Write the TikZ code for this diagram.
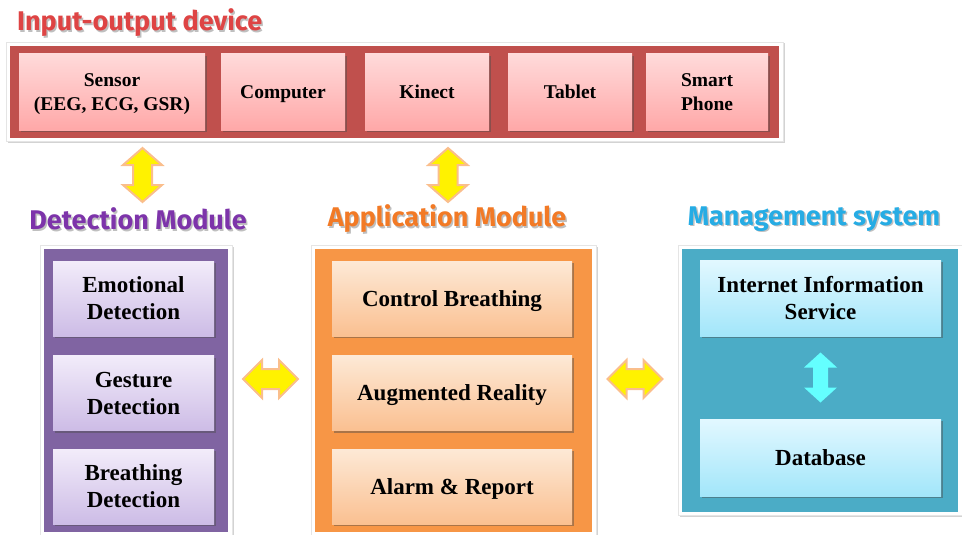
\documentclass[tikz,border=0pt]{standalone}
\usepackage{fontspec}
\setmainfont{Liberation Serif}
\newfontfamily\titlefont{Fira Sans}
\usetikzlibrary{shadows,calc}
\definecolor{ioRed}{RGB}{192,80,77}
\definecolor{detPurple}{RGB}{128,100,162}
\definecolor{appOrange}{RGB}{247,150,70}
\definecolor{mgTeal}{RGB}{75,172,198}
\definecolor{redTop}{RGB}{255,218,218}
\definecolor{redBot}{RGB}{255,168,168}
\definecolor{purTop}{RGB}{242,236,250}
\definecolor{purBot}{RGB}{205,188,230}
\definecolor{oraTop}{RGB}{253,233,214}
\definecolor{oraBot}{RGB}{250,192,145}
\definecolor{tealTop}{RGB}{226,248,255}
\definecolor{tealBot}{RGB}{162,230,250}
\definecolor{arrBorder}{RGB}{250,190,140}
\definecolor{arrCyan}{RGB}{100,255,255}
\definecolor{tRed}{RGB}{222,68,68}
\definecolor{tPurple}{RGB}{125,52,170}
\definecolor{tOrange}{RGB}{242,122,38}
\definecolor{tBlue}{RGB}{38,172,228}
\begin{document}
\begin{tikzpicture}[x=1pt,y=-1pt,
  outerframe/.style={fill=white, draw=black!10, line width=0.6pt,
    drop shadow={shadow xshift=1.5pt, shadow yshift=-1.5pt, opacity=0.35}},
  panel/.style={draw=none, inner sep=0pt},
  boxbase/.style={inner sep=0pt, align=center, draw=none, text depth=0pt,
    drop shadow={shadow xshift=1.5pt, shadow yshift=-2pt, opacity=0.45, fill=black!70}},
  topbox/.style={boxbase, top color=redTop, bottom color=redBot,
    minimum height=76pt, font=\fontsize{19.5}{24}\selectfont\bfseries},
  detbox/.style={boxbase, top color=purTop, bottom color=purBot,
    minimum width=161pt, minimum height=75pt, font=\fontsize{23}{27}\selectfont\bfseries},
  appbox/.style={boxbase, top color=oraTop, bottom color=oraBot,
    minimum width=240pt, minimum height=75pt, font=\fontsize{23}{27}\selectfont\bfseries},
  mgbox/.style={boxbase, top color=tealTop, bottom color=tealBot,
    minimum width=241pt, minimum height=76pt, font=\fontsize{23}{27}\selectfont\bfseries},
  ttl/.style={inner sep=0pt, font=\titlefont\fontsize{27}{31}\selectfont\bfseries},
  ttlshadow/.style={ttl, text=black, opacity=0.25},
  yarrow/.style={fill=yellow, draw=arrBorder, line width=2pt, line join=miter},
  carrow/.style={fill=arrCyan, draw=none}
]
\useasboundingbox (0,0) rectangle (962,535);

% ---------- Input-output device ----------
\node[ttlshadow, anchor=west] (iottlsh) at (18.5,24.5) {Input-output device};
\node[ttl, text=tRed, anchor=west] (iottl) at (17,23) {Input-output device};
\node[outerframe, minimum width=777pt, minimum height=99pt, inner sep=0pt] (ioframe) at (394.5,91.5) {};
\node[panel, fill=ioRed, minimum width=769pt, minimum height=92pt] (iopanel) at (394.5,92) {};
\node[topbox, minimum width=186pt] (sensor) at (112,92) {Sensor\\(EEG, ECG, GSR)};
\node[topbox, minimum width=124pt] (computer) at (283,92) {Computer};
\node[topbox, minimum width=124pt] (kinect) at (427,92) {Kinect};
\node[topbox, minimum width=124pt] (tablet) at (570,92) {Tablet};
\node[topbox, minimum width=122pt] (phone) at (707,92) {Smart\\Phone};

% ---------- Detection Module ----------
\node[ttlshadow] (detttlsh) at (139.5,220.5) {Detection Module};
\node[ttl, text=tPurple] (detttl) at (138,219) {Detection Module};
\node[outerframe, minimum width=192pt, minimum height=290pt, inner sep=0pt] (detframe) at (136,390) {};
\node[panel, fill=detPurple, minimum width=184pt, minimum height=283pt] (detpanel) at (136,390.5) {};
\node[detbox] (emo) at (133.5,298.5) {Emotional\\Detection};
\node[detbox] (ges) at (133.5,393) {Gesture\\Detection};
\node[detbox] (bre) at (133.5,486.5) {Breathing\\Detection};

% ---------- Application Module ----------
\node[ttlshadow] (appttlsh) at (448.5,220.5) {Application Module};
\node[ttl, text=tOrange] (appttl) at (447,219) {Application Module};
\node[outerframe, minimum width=285pt, minimum height=290pt, inner sep=0pt] (appframe) at (453.5,390) {};
\node[panel, fill=appOrange, minimum width=277pt, minimum height=283pt] (apppanel) at (453.5,390.5) {};
\node[appbox] (ctrl) at (452,298.5) {Control Breathing};
\node[appbox] (ar) at (452,393) {Augmented Reality};
\node[appbox] (alarm) at (452,486.5) {Alarm \& Report};

% ---------- Management system ----------
\node[ttlshadow] (mgttlsh) at (815.5,220.5) {Management system};
\node[ttl, text=tBlue] (mgttl) at (814,219) {Management system};
\node[outerframe, minimum width=284pt, minimum height=270pt, inner sep=0pt] (mgframe) at (820,380) {};
\node[panel, fill=mgTeal, minimum width=276pt, minimum height=263pt] (mgpanel) at (820,380.5) {};
\node[mgbox] (iis) at (820.5,298) {Internet Information\\Service};
\node[mgbox, minimum height=77pt] (db) at (820.5,457.5) {Database};

% ---------- connectors (block double arrows) ----------
\coordinate (va1) at (142.5,175);
\coordinate (va2) at (448,175);
\coordinate (ha1) at (270.5,379);
\coordinate (ha2) at (635,379);
\coordinate (ca) at ($(iis.south)!0.5!(db.north)$);

\foreach \c in {va1,va2}{
  \draw[yarrow, shift={(\c)}] (0,-27) -- (19.5,-10) -- (9.5,-10) -- (9.5,10) -- (19.5,10)
     -- (0,27) -- (-19.5,10) -- (-9.5,10) -- (-9.5,-10) -- (-19.5,-10) -- cycle;
}
\foreach \c in {ha1,ha2}{
  \draw[yarrow, shift={(\c)}] (-27.5,0) -- (-8.5,-19) -- (-8.5,-10) -- (8.5,-10) -- (8.5,-19)
     -- (27.5,0) -- (8.5,19) -- (8.5,10) -- (-8.5,10) -- (-8.5,19) -- cycle;
}
\fill[carrow, shift={(ca)}] (0,-25) -- (16.5,-10) -- (7.5,-10) -- (7.5,10) -- (16.5,10)
     -- (0,25) -- (-16.5,10) -- (-7.5,10) -- (-7.5,-10) -- (-16.5,-10) -- cycle;
\end{tikzpicture}
\end{document}
